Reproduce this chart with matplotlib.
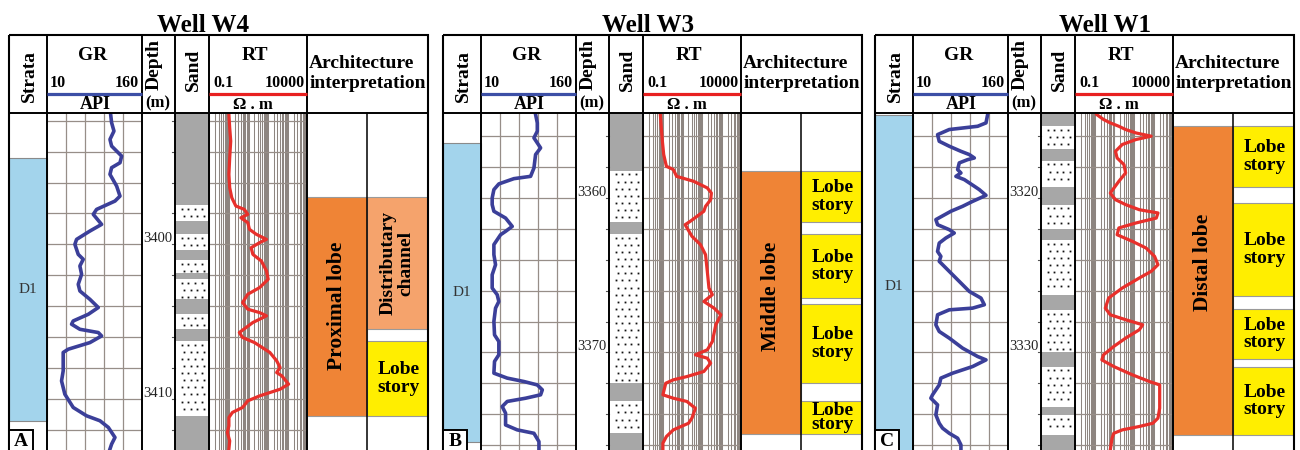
import matplotlib
matplotlib.use("Agg")
import matplotlib.pyplot as plt
from matplotlib.patches import Rectangle

plt.rcParams["font.family"] = ["Liberation Serif", "DejaVu Serif"]

# ---------------- well W4 ----------------
w4_gr_depth = [3391.6, 3392.13, 3392.67, 3393.21, 3393.64, 3394.29, 3394.72, 3395.04, 3395.47,
               3396.23, 3396.88, 3397.2, 3397.74, 3398.06, 3398.71, 3399.14, 3399.68, 3400.0,
               3400.65, 3400.97, 3401.4, 3401.94, 3402.59, 3403.02, 3403.56, 3404.09, 3404.53,
               3404.96, 3405.17, 3405.5, 3405.71, 3405.93, 3406.36, 3406.79, 3407.0, 3408.19,
               3408.84, 3409.7, 3410.56, 3411.1, 3411.42, 3411.85, 3412.5, 3412.93, 3413.25]
w4_gr = [111.1, 112.6, 116.3, 110.0, 112.6, 128.4, 125.8, 112.6, 110.0, 120.5, 125.8, 117.9,
         88.9, 83.7, 96.8, 78.4, 57.4, 54.7, 60.0, 67.9, 62.6, 65.3, 60.0, 62.6, 78.4, 91.6,
         75.8, 52.1, 49.5, 62.6, 91.6, 96.8, 78.4, 44.2, 36.3, 36.3, 33.7, 38.9, 52.1, 73.2,
         94.2, 107.4, 117.9, 112.6, 110.0]
w4_rt_depth = [3391.6, 3392.46, 3393.32, 3394.4, 3395.47, 3396.34, 3396.98, 3397.52, 3397.74,
               3398.06, 3398.28, 3398.6, 3399.03, 3399.35, 3399.68, 3399.89, 3400.22, 3400.65,
               3401.08, 3401.72, 3402.26, 3402.8, 3403.23, 3403.77, 3404.2, 3404.42, 3404.63,
               3405.06, 3405.71, 3406.03, 3406.36, 3407.0, 3407.54, 3407.97, 3408.3, 3408.51,
               3409.05, 3409.38, 3409.81, 3410.13, 3410.56, 3410.88, 3411.21, 3411.75, 3412.18,
               3412.72, 3413.25]
w4_rt = [1.0, 1.1, 1.24, 1.1, 1.0, 1.1, 1.4, 2.26, 6.1, 9.2, 4.1, 9.2, 11.2, 24.9, 82.6, 37,
         13.6, 16.7, 45.3, 82.6, 100.7, 37, 9.2, 5.0, 9.2, 37, 82.6, 16.7, 3.4, 5.0, 20.4, 123,
         274, 408, 274, 499, 1109, 408, 37, 9.2, 5.0, 1.51, 1.0, 1.0, 0.83, 1.1, 1.0]
w4_sand = [(3397.46, 3398.49), (3399.31, 3400.39), (3401.01, 3401.88), (3402.26, 3403.56),
           (3404.53, 3405.5), (3406.25, 3411.1)]
w4_strata = ("D1", 3394.39, 3411.44)
w4_lobe = ("Proximal lobe", 3396.96, 3411.13, 3404.0)
w4_units = [("Distributary\nchannel", 3396.96, 3405.47, "channel"),
            ("Lobe\nstory", 3406.23, 3411.13, "story")]

# ---------------- well W3 ----------------
w3_gr_depth = [3354.6, 3355.14, 3355.68, 3356.11, 3356.76, 3357.19, 3358.06, 3358.6, 3358.75,
               3359.09, 3359.46, 3360.0, 3360.43, 3360.86, 3361.3, 3361.84, 3362.16, 3362.38,
               3363.02, 3363.67, 3364.32, 3364.97, 3365.83, 3366.26, 3366.7, 3367.13, 3367.99,
               3368.86, 3369.29, 3370.15, 3370.58, 3371.34, 3371.66, 3371.88, 3372.1, 3372.42,
               3372.74, 3372.96, 3373.17, 3373.5, 3373.93, 3374.69, 3375.01, 3375.23, 3375.77,
               3376.31]
w3_gr = [96.8, 99.5, 99.5, 94.2, 104.7, 96.8, 94.2, 88.9, 62.6, 38.9, 31.1, 28.4, 28.4, 31.1,
         49.5, 60.0, 49.5, 41.6, 31.1, 31.1, 33.7, 28.4, 28.4, 36.3, 38.9, 33.7, 31.1, 32.1,
         38.9, 38.9, 32.1, 31.1, 52.1, 78.4, 99.5, 107.4, 104.7, 81.1, 52.1, 44.2, 49.5, 49.5,
         67.9, 94.2, 102.1, 102.1]
w3_rt_depth = [3354.6, 3355.46, 3356.33, 3357.19, 3357.95, 3358.16, 3358.6, 3358.92, 3359.35,
               3359.68, 3360.11, 3360.54, 3360.86, 3361.51, 3361.73, 3362.48, 3363.02, 3363.67,
               3364.75, 3365.83, 3366.26, 3366.7, 3367.13, 3367.56, 3368.21, 3369.29, 3369.83,
               3370.15, 3370.37, 3370.69, 3371.23, 3371.56, 3371.77, 3371.99, 3372.74, 3372.96,
               3373.17, 3373.61, 3374.25, 3374.58, 3375.01, 3375.44, 3375.87, 3376.31]
w3_rt = [0.74, 0.83, 0.94, 1.1, 1.51, 3.4, 5.0, 37, 184, 297, 274, 150, 123, 24.9, 13.6, 30.3,
         82.6, 150, 184, 224, 334, 123, 408, 908, 499, 334, 184, 45.3, 184, 274, 123, 16.7, 3.4,
         1.4, 1.0, 3.4, 16.7, 45.3, 30.3, 20.4, 3.4, 1.51, 1.0, 1.0]
w3_sand = [(3358.23, 3361.56), (3362.33, 3371.99), (3373.17, 3375.23)]
w3_strata = ("D1", 3356.42, 3375.79)
w3_lobe = ("Middle lobe", 3358.23, 3375.29, 3366.4)
w3_units = [("Lobe\nstory", 3358.23, 3361.54, "story"),
            ("Lobe\nstory", 3362.33, 3366.46, "story"),
            ("Lobe\nstory", 3366.87, 3371.97, "story"),
            ("Lobe\nstory", 3373.14, 3375.29, "story")]

# ---------------- well W1 ----------------
w1_gr_depth = [3314.6, 3315.14, 3315.36, 3315.57, 3315.9, 3316.33, 3316.65, 3316.98, 3317.19,
               3317.41, 3317.52, 3317.73, 3318.16, 3318.38, 3318.6, 3318.81, 3319.24, 3319.46,
               3319.83, 3320.22, 3320.54, 3320.86, 3321.4, 3321.73, 3322.05, 3322.27, 3322.59,
               3322.92, 3323.46, 3323.78, 3324.1, 3324.75, 3325.4, 3326.05, 3326.48, 3326.91,
               3327.13, 3327.24, 3327.56, 3328.21, 3328.64, 3329.07, 3329.72, 3330.26, 3330.48,
               3330.91, 3331.34, 3331.66, 3332.1, 3332.74, 3332.96, 3333.39, 3334.04, 3334.58,
               3334.9, 3335.23, 3335.55, 3335.98, 3336.31]
w1_gr = [128.4, 125.8, 112.6, 67.9, 49.5, 52.1, 67.9, 86.3, 99.5, 107.4, 96.8, 83.7, 81.1,
         86.3, 78.4, 91.6, 107.4, 115.3, 125.8, 104.7, 88.9, 70.5, 46.8, 49.5, 67.9, 75.8, 62.6,
         52.1, 49.5, 54.7, 52.1, 67.9, 83.7, 99.5, 117.9, 123.2, 104.7, 67.9, 49.5, 46.8, 52.1,
         67.9, 88.9, 112.6, 125.8, 104.7, 73.2, 54.7, 52.1, 41.6, 38.9, 49.5, 46.8, 52.1, 57.4,
         67.9, 81.1, 86.3, 86.3]
w1_rt_depth = [3314.6, 3314.92, 3315.14, 3315.36, 3315.57, 3315.79, 3316.0, 3316.22, 3316.54,
               3316.98, 3317.41, 3317.84, 3318.38, 3318.92, 3319.68, 3320.11, 3320.43, 3320.76,
               3320.97, 3321.3, 3321.62, 3321.94, 3322.38, 3322.81, 3323.24, 3323.78, 3324.32,
               3324.75, 3325.18, 3325.83, 3326.48, 3327.13, 3327.56, 3327.88, 3328.21, 3328.53,
               3329.07, 3329.61, 3330.15, 3330.48, 3330.91, 3331.45, 3331.88, 3332.1, 3333.61,
               3334.25, 3334.58, 3334.79, 3335.01, 3335.23, 3335.55, 3336.31]
w1_rt = [1.24, 2.76, 6.1, 16.7, 37, 123, 743, 123, 24.9, 11.2, 13.6, 30.3, 37, 16.7, 6.1, 11.2,
         37, 184, 1652, 1355, 123, 16.7, 13.6, 82.6, 408, 1109, 1652, 743, 184, 24.9, 5.0, 3.4,
         6.1, 37, 274, 184, 37, 9.2, 2.76, 2.26, 9.2, 82.6, 609, 2018, 2018, 1652, 908, 184,
         24.9, 9.2, 7.5, 6.1]
w1_sand = [(3315.36, 3316.8), (3317.58, 3319.31), (3320.43, 3321.99), (3322.7, 3326.26),
           (3327.24, 3330.0), (3330.91, 3333.5), (3334.04, 3335.33)]
w1_strata = ("D1", 3314.62, 3336.8)
w1_lobe = ("Distal lobe", 3315.33, 3335.36, 3324.2)
w1_units = [("Lobe\nstory", 3315.33, 3319.27, "story"),
            ("Lobe\nstory", 3320.3, 3326.33, "story"),
            ("Lobe\nstory", 3327.2, 3330.39, "story"),
            ("Lobe\nstory", 3330.93, 3335.36, "story")]

well_names = ["Well W4", "Well W3", "Well W1"]
panel_letters = ["A", "B", "C"]
view_tops = [3391.5, 3354.5, 3314.5]
depth_labels = [[3400, 3410], [3360, 3370], [3320, 3330]]
gr_depths = [w4_gr_depth, w3_gr_depth, w1_gr_depth]
gr_values = [w4_gr, w3_gr, w1_gr]
rt_depths = [w4_rt_depth, w3_rt_depth, w1_rt_depth]
rt_values = [w4_rt, w3_rt, w1_rt]
sand_beds = [w4_sand, w3_sand, w1_sand]
strata_units = [w4_strata, w3_strata, w1_strata]
lobe_units = [w4_lobe, w3_lobe, w1_lobe]
story_units = [w4_units, w3_units, w1_units]

# ---------------- layout (pixels) ----------------
FIG_W, FIG_H = 1300, 450
PANEL_X = [0, 434, 866]
TITLE_X = [203, 648, 1105]
COL_X = [9, 46.5, 141.7, 175, 209.3, 307.3, 428]   # strata | GR | depth | sand | RT | architecture
ARCH_SPLIT = 366.7
HEAD_TOP, HEAD_BOT = 35, 113
PX_PER_M = 15.45

C_BLUE_FILL = "#a3d4ec"
C_ORANGE = "#ef8436"
C_CHANNEL = "#f5a36c"
C_YELLOW = "#ffee00"
C_SAND_GRAY = "#a7a7a7"
C_GR = "#3b3f99"
C_RT = "#e8302b"
C_GRID = "#978e88"
unit_colors = {"channel": C_CHANNEL, "story": C_YELLOW}

fig = plt.figure(figsize=(FIG_W / 100, FIG_H / 100), dpi=100)


def px_axes(x0, y0, x1, y1, z=1):
    ax = fig.add_axes([x0 / FIG_W, 1 - y1 / FIG_H, (x1 - x0) / FIG_W, (y1 - y0) / FIG_H])
    ax.set_zorder(z)
    ax.patch.set_alpha(0)
    ax.axis("off")
    return ax


bold = dict(fontweight="bold", color="black")

for p in range(3):
    ox = PANEL_X[p]
    top = view_tops[p]
    bot = top + (FIG_H - HEAD_BOT) / PX_PER_M
    even_depths = [d for d in range(int(top) - 2, int(bot) + 3) if d % 2 == 0 and top < d < bot]

    # ---- body: strata, sand, architecture, depth scale ----
    body = px_axes(ox + COL_X[0], HEAD_BOT, ox + COL_X[-1], FIG_H, z=1)
    body.set_xlim(COL_X[0], COL_X[-1])
    body.set_ylim(bot, top)

    name, s_top, s_bot = strata_units[p]
    body.add_patch(Rectangle((COL_X[0], s_top), COL_X[1] - COL_X[0], s_bot - s_top,
                             facecolor=C_BLUE_FILL, edgecolor="#8a8a8a", lw=0.8))
    body.text((COL_X[0] + COL_X[1]) / 2, (s_top + s_bot) / 2, name, ha="center", va="center",
              fontsize=11, color="#333333")

    sx0, sx1 = COL_X[3], COL_X[4]
    body.add_patch(Rectangle((sx0, top - 1), sx1 - sx0, bot - top + 2,
                             facecolor=C_SAND_GRAY, edgecolor="none"))
    for b_top, b_bot in sand_beds[p]:
        body.add_patch(Rectangle((sx0, b_top), sx1 - sx0, b_bot - b_top,
                                 facecolor="white", edgecolor="none"))
        row, d = 0, b_top + 0.25
        dots_x, dots_y = [], []
        while d < b_bot - 0.12:
            shift = 0.0 if row % 2 == 0 else 0.07
            for f in (0.19, 0.39, 0.58, 0.78):
                dots_x.append(sx0 + (f + shift) * (sx1 - sx0))
                dots_y.append(d)
            row += 1
            d += 0.46
        body.plot(dots_x, dots_y, "s", ms=1.3, mew=0, color="#111111")

    lab, l_top, l_bot, l_mid = lobe_units[p]
    body.add_patch(Rectangle((COL_X[5], l_top), ARCH_SPLIT - COL_X[5], l_bot - l_top,
                             facecolor=C_ORANGE, edgecolor="#9a9a9a", lw=0.8))
    body.text((COL_X[5] + ARCH_SPLIT) / 2, l_mid, lab, rotation=90, ha="center",
              va="center", fontsize=15.5, **bold)
    for u_lab, u_top, u_bot, kind in story_units[p]:
        body.add_patch(Rectangle((ARCH_SPLIT, u_top), COL_X[6] - ARCH_SPLIT, u_bot - u_top,
                                 facecolor=unit_colors[kind], edgecolor="#9a9a9a", lw=0.8))
        if kind == "channel":
            body.text((ARCH_SPLIT + COL_X[6]) / 2, (u_top + u_bot) / 2, u_lab, rotation=90,
                      ha="center", va="center", fontsize=14, linespacing=1.05, **bold)
        else:
            ls = 0.72 if (u_bot - u_top) < 2.5 else 1.05
            body.text((ARCH_SPLIT + COL_X[6]) / 2 + 1, (u_top + u_bot) / 2, u_lab,
                      ha="center", va="center", fontsize=14, linespacing=ls, **bold)

    for d in even_depths:
        body.plot([COL_X[3] - 3.5, COL_X[3]], [d, d], color="#555555", lw=0.8)
    for d in depth_labels[p]:
        body.annotate(str(d), xy=(COL_X[3] - 2.5, d), xytext=(0, 1.5),
                      textcoords="offset points", ha="right", va="baseline",
                      fontsize=10.5, color="#222222")

    # ---- GR track ----
    gr_ax = px_axes(ox + COL_X[1], HEAD_BOT, ox + COL_X[2], FIG_H, z=2)
    gr_ax.set_xlim(10, 160)
    gr_ax.set_ylim(bot, top)
    for g in (40, 70, 100, 130):
        gr_ax.axvline(g, color=C_GRID, lw=0.9)
    for d in even_depths:
        gr_ax.axhline(d, color=C_GRID, lw=0.9)
    gr_ax.plot(gr_values[p], gr_depths[p], color=C_GR, lw=2.6, solid_joinstyle="round")

    # ---- RT track (log scale) ----
    rt_ax = px_axes(ox + COL_X[4], HEAD_BOT, ox + COL_X[5], FIG_H, z=2)
    rt_ax.set_xscale("log")
    rt_ax.set_xlim(0.1, 10000)
    rt_ax.set_ylim(bot, top)
    for e in range(-1, 4):
        for m in range(1, 10):
            rt_ax.axvline(m * 10.0 ** e, color="#8d8580", lw=0.75)
    for d in even_depths:
        rt_ax.axhline(d, color=C_GRID, lw=0.9)
    rt_ax.plot(rt_values[p], rt_depths[p], color=C_RT, lw=2.3, solid_joinstyle="round")

# ---------------- frames and headers ----------------
over = px_axes(0, 0, FIG_W, FIG_H, z=5)
over.set_xlim(0, FIG_W)
over.set_ylim(FIG_H, 0)

for p in range(3):
    ox = PANEL_X[p]
    X = [ox + c for c in COL_X]
    over.text(TITLE_X[p], 32, well_names[p], ha="center", va="baseline", fontsize=18, **bold)

    over.add_patch(Rectangle((X[0], HEAD_TOP), X[6] - X[0], FIG_H + 20 - HEAD_TOP,
                             fill=False, edgecolor="black", lw=1.5))
    for x in X[1:6]:
        over.plot([x, x], [HEAD_TOP, FIG_H + 5], color="black", lw=1.4)
    over.plot([X[0], X[6]], [HEAD_BOT, HEAD_BOT], color="black", lw=1.4)
    over.plot([ox + ARCH_SPLIT] * 2, [HEAD_BOT, FIG_H + 5], color="black", lw=1.1)

    # header labels
    over.text(X[0] + 20, 76, "Strata", rotation=90, ha="center", va="center", fontsize=14, **bold)
    over.text(X[1] + 46, 56, "GR", ha="center", va="center", fontsize=14, **bold)
    over.text(X[1] + 3.5, 83, "10", ha="left", va="center", fontsize=11.5, **bold)
    over.text(X[2] - 3, 83, "160", ha="right", va="center", fontsize=11.5, **bold)
    over.plot([X[1], X[2]], [94, 94], color="#3c4fa6", lw=2.3, solid_capstyle="butt")
    over.text(X[1] + 48.5, 104.5, "API", ha="center", va="center", fontsize=13, **bold)
    over.text(X[2] + 12.5, 65, "Depth", rotation=90, ha="center", va="center", fontsize=14, **bold)
    over.text(X[2] + 16.5, 103, "(m)", ha="center", va="center", fontsize=12, **bold)
    over.text(X[3] + 18, 70, "Sand", rotation=90, ha="center", va="center", fontsize=14, **bold)
    over.text(X[4] + 45.5, 56, "RT", ha="center", va="center", fontsize=14, **bold)
    over.text(X[4] + 4, 83, "0.1", ha="left", va="center", fontsize=11.5, **bold)
    over.text(X[5] - 2, 83, "10000", ha="right", va="center", fontsize=11.5, **bold)
    over.plot([X[4], X[5]], [94, 94], color="#e82020", lw=2.3, solid_capstyle="butt")
    over.text(X[4] + 44, 105, "Ω . m", ha="center", va="center", fontsize=12, **bold)
    over.text(X[5] + 2, 63.5, "Architecture", ha="left", va="center", fontsize=14, **bold)
    over.text(X[5] + 2, 83, "interpretation", ha="left", va="center", fontsize=14, **bold)

    # panel letter
    over.add_patch(Rectangle((X[0], 430), 23.5, 40, facecolor="white",
                             edgecolor="black", lw=1.4))
    over.text(X[0] + 11.8, 442, panel_letters[p], ha="center", va="center", fontsize=14, **bold)

fig.savefig("out.png", dpi=100)
